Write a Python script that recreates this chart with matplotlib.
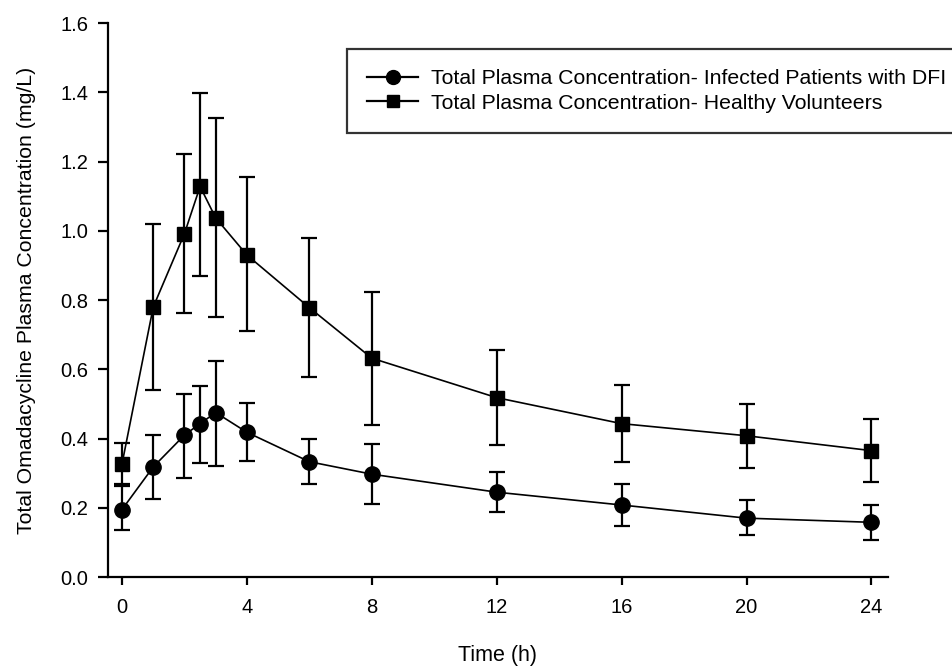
"""Omadacycline plasma concentration over time."""

import matplotlib.pyplot as plt
from matplotlib.lines import Line2D

plt.rcParams["font.family"] = ["Liberation Sans", "DejaVu Sans"]

# ===========================
# Dados
# ===========================

tempo = [0, 1, 2, 2.5, 3, 4, 6, 8, 12, 16, 20, 24]

infectados = [0.195, 0.318, 0.41, 0.443, 0.475, 0.418, 0.333, 0.297, 0.245, 0.208, 0.170, 0.158]
infectados_inf = [0.135, 0.226, 0.287, 0.330, 0.320, 0.334, 0.268, 0.212, 0.188, 0.148, 0.122, 0.107]
infectados_sup = [0.264, 0.409, 0.530, 0.552, 0.625, 0.504, 0.400, 0.383, 0.302, 0.268, 0.222, 0.208]

voluntarios = [0.327, 0.780, 0.992, 1.128, 1.037, 0.930, 0.778, 0.632, 0.518, 0.443, 0.408, 0.365]
voluntarios_inf = [0.268, 0.540, 0.762, 0.868, 0.752, 0.712, 0.578, 0.440, 0.382, 0.332, 0.315, 0.275]
voluntarios_sup = [0.386, 1.020, 1.222, 1.398, 1.325, 1.155, 0.978, 0.822, 0.655, 0.555, 0.500, 0.455]

rotulos = [
    "Total Plasma Concentration- Infected Patients with DFI",
    "Total Plasma Concentration- Healthy Volunteers",
]

fig = plt.figure(figsize=(9.53, 6.66), dpi=100)
ax = fig.add_axes([0.1133, 0.1336, 0.8185, 0.8318])

erro_inf = [
    [v - lo for v, lo in zip(infectados, infectados_inf)],
    [hi - v for v, hi in zip(infectados, infectados_sup)],
]
erro_vol = [
    [v - lo for v, lo in zip(voluntarios, voluntarios_inf)],
    [hi - v for v, hi in zip(voluntarios, voluntarios_sup)],
]

ax.errorbar(
    tempo, infectados, yerr=erro_inf,
    color="black", marker="o", markersize=11, linewidth=1.2,
    elinewidth=1.6, capsize=6, capthick=1.6,
)
ax.errorbar(
    tempo, voluntarios, yerr=erro_vol,
    color="black", marker="s", markersize=9.5, linewidth=1.2,
    elinewidth=1.6, capsize=6, capthick=1.6,
)

ax.set_xlim(-0.45, 24.53)
ax.set_ylim(0, 1.6)
ax.set_xticks([0, 4, 8, 12, 16, 20, 24])
ax.set_yticks([0.0, 0.2, 0.4, 0.6, 0.8, 1.0, 1.2, 1.4, 1.6])
ax.yaxis.set_major_formatter(plt.FuncFormatter(lambda v, p: f"{v:.1f}"))

for lado in ("top", "right"):
    ax.spines[lado].set_visible(False)
for lado in ("left", "bottom"):
    ax.spines[lado].set_linewidth(1.6)

ax.tick_params(axis="x", direction="out", length=6, width=1.6, labelsize=14.5, pad=9)
ax.tick_params(axis="y", direction="out", length=7, width=1.6, labelsize=14.5, pad=7)

ax.set_xlabel("Time (h)", fontsize=15.5, labelpad=20)
ax.set_ylabel("Total Omadacycline Plasma Concentration (mg/L)", fontsize=15.3, labelpad=18)

# Legenda só com linha + marcador
alcas = [
    Line2D([], [], color="black", marker="o", markersize=10, linewidth=1.6),
    Line2D([], [], color="black", marker="s", markersize=9, linewidth=1.6),
]
leg = fig.legend(
    alcas, rotulos,
    loc="upper left", bbox_to_anchor=(0.364, 0.926), fontsize=15.3,
    frameon=True, fancybox=False, edgecolor="black", handlelength=2.4,
    handletextpad=0.6, borderpad=0.95, labelspacing=0.25, borderaxespad=0,
)
leg.get_frame().set_linewidth(1.6)

fig.savefig("out.png", dpi=100)
